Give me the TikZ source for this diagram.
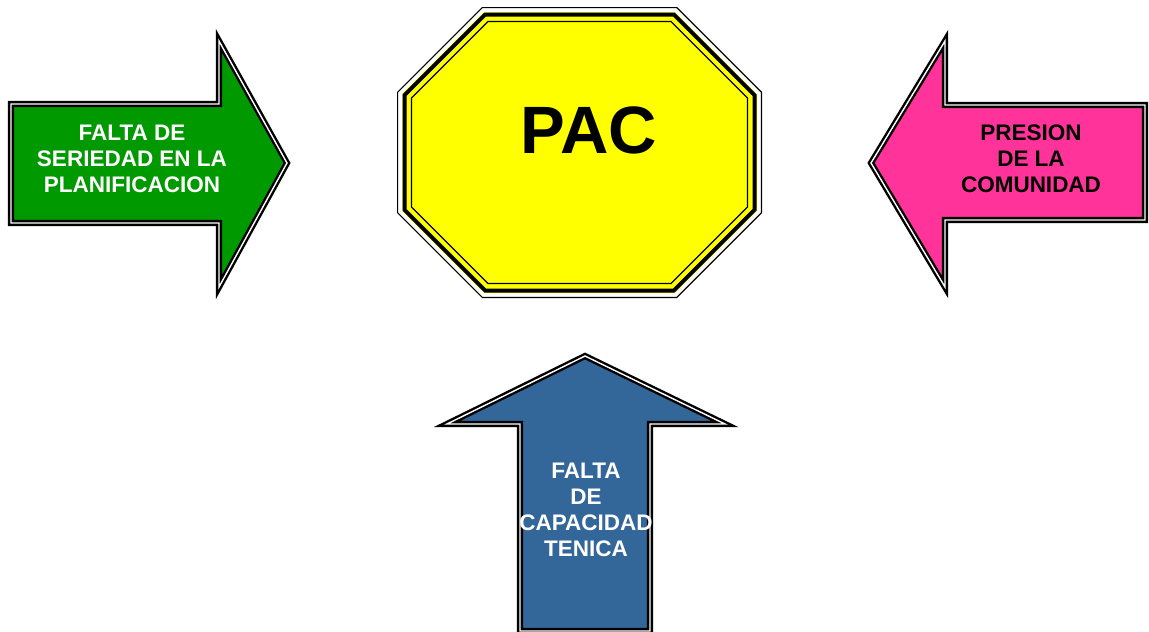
\documentclass[tikz,border=0pt]{standalone}
\usepackage{fontspec}
\setmainfont{Liberation Sans}
\usepackage{tikz}
\usetikzlibrary{positioning}
\definecolor{pacyellow}{HTML}{FFFF00}
\definecolor{arrgreen}{HTML}{009900}
\definecolor{arrpink}{HTML}{FF3399}
\definecolor{arrblue}{HTML}{336699}
\tikzstyle{bigarrow} = [draw=black, line width=2.4pt, double=white, double distance=1.4pt, line join=miter]
\tikzstyle{atext} = [align=center, font=\fontsize{22.5}{26}\selectfont\bfseries, inner sep=0pt]
\newcommand{\octpath}[1]{({482+0.414*#1},{7+#1}) -- ({677-0.414*#1},{7+#1}) -- ({762-#1},{92+0.414*#1}) -- ({762-#1},{213-0.414*#1}) -- ({677-0.414*#1},{298-#1}) -- ({482+0.414*#1},{298-#1}) -- ({397+#1},{213-0.414*#1}) -- ({397+#1},{92+0.414*#1}) -- cycle}

\begin{document}
\begin{tikzpicture}[x=1pt, y=-1pt]
			\useasboundingbox (0,0) rectangle (1149,632);
			
			% octagon
			\fill [pacyellow] \octpath{5};
			\draw [line width=4pt] \octpath{7.5};
			\draw [line width=1.2pt] \octpath{0.6};
			\draw [line width=1.4pt] \octpath{14.5};
			\node [anchor=base, font=\fontsize{67}{67}\selectfont\bfseries] (pac) at (589,153) {PAC};
			
			% arrows
			\path [bigarrow, fill=arrgreen] (11,104) -- (219,104) -- (219,41) -- (287,163) -- (219,287) -- (219,223) -- (11,223) -- cycle;
			\path [bigarrow, fill=arrpink] (1145,105) -- (945,105) -- (945,41) -- (871,163) -- (945,287) -- (945,220) -- (1145,220) -- cycle;
			\path [bigarrow, fill=arrblue] (520,631) -- (520,424) -- (447,424) -- (585,356) -- (725,424) -- (650,424) -- (650,631) -- cycle;
			
			\node [atext, text=white] (falta) at (132,159) {FALTA DE\\SERIEDAD EN LA\\PLANIFICACION};
			\node [atext, text=black] (presion) at (1031,159) {PRESION\\DE LA\\COMUNIDAD};
			\node [atext, text=white] (capacidad) at (586,510) {FALTA\\DE\\CAPACIDAD\\TENICA};
		\end{tikzpicture}
\end{document}
